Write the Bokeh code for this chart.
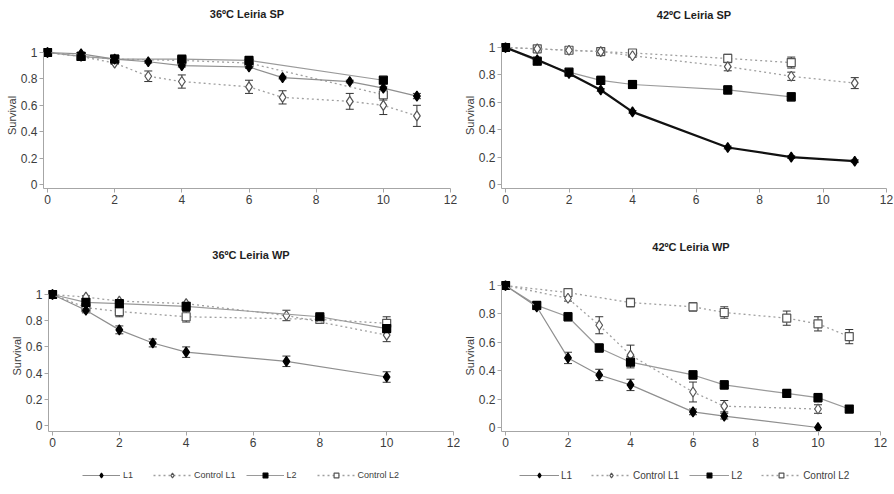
from bokeh.plotting import figure
from bokeh.layouts import column, row
from bokeh.models import (ColumnDataSource, Whisker, TeeHead, Legend, LegendItem,
                          FixedTicker, Range1d, Title)
from bokeh.embed import file_html
from bokeh.resources import INLINE

# ---------------- data ----------------
x_ticks = [0, 2, 4, 6, 8, 10, 12]
y_ticks = [0, 0.2, 0.4, 0.6, 0.8, 1.0]
y_tick_labels = ["0", "0.2", "0.4", "0.6", "0.8", "1"]
series_names = ["L1", "Control L1", "L2", "Control L2"]
panel_titles = ["36ºC Leiria SP", "42ºC Leiria SP", "36ºC Leiria WP", "42ºC Leiria WP"]
y_axis_label = "Survival"

# 36ºC Leiria SP
tl_l1_x = [0, 1, 2, 3, 4, 6, 7, 9, 10, 11]
tl_l1_y = [1.00, 0.99, 0.95, 0.93, 0.90, 0.89, 0.81, 0.78, 0.73, 0.67]
tl_l1_e = [0, 0.01, 0.01, 0.01, 0.01, 0.01, 0.01, 0.01, 0.01, 0.02]
tl_c1_x = [0, 1, 2, 3, 4, 6, 7, 9, 10, 11]
tl_c1_y = [1.00, 0.97, 0.92, 0.82, 0.78, 0.74, 0.66, 0.63, 0.60, 0.52]
tl_c1_e = [0, 0.01, 0.01, 0.04, 0.05, 0.05, 0.05, 0.06, 0.07, 0.08]
tl_l2_x = [0, 1, 2, 4, 6, 10]
tl_l2_y = [1.00, 0.97, 0.95, 0.95, 0.94, 0.79]
tl_l2_e = [0, 0.01, 0.01, 0.02, 0.02, 0.02]
tl_c2_x = [0, 1, 2, 4, 6, 10]
tl_c2_y = [1.00, 0.97, 0.95, 0.94, 0.92, 0.68]
tl_c2_e = [0, 0.01, 0.01, 0.01, 0.01, 0.04]

# 42ºC Leiria SP
tr_l1_x = [0, 1, 2, 3, 4, 7, 9, 11]
tr_l1_y = [1.00, 0.91, 0.81, 0.69, 0.53, 0.27, 0.20, 0.17]
tr_l1_e = [0, 0.01, 0.01, 0.01, 0.01, 0.01, 0.01, 0.01]
tr_c1_x = [0, 1, 2, 3, 4, 7, 9, 11]
tr_c1_y = [1.00, 0.99, 0.98, 0.97, 0.94, 0.86, 0.79, 0.74]
tr_c1_e = [0, 0.01, 0.01, 0.01, 0.01, 0.03, 0.03, 0.04]
tr_l2_x = [0, 1, 2, 3, 4, 7, 9]
tr_l2_y = [1.00, 0.90, 0.82, 0.76, 0.73, 0.69, 0.64]
tr_l2_e = [0, 0.02, 0.02, 0.03, 0.03, 0.03, 0.03]
tr_c2_x = [0, 1, 2, 3, 4, 7, 9]
tr_c2_y = [1.00, 0.99, 0.98, 0.97, 0.96, 0.92, 0.89]
tr_c2_e = [0, 0.01, 0.01, 0.01, 0.02, 0.03, 0.04]

# 36ºC Leiria WP
bl_l1_x = [0, 1, 2, 3, 4, 7, 10]
bl_l1_y = [1.00, 0.88, 0.73, 0.63, 0.56, 0.49, 0.37]
bl_l1_e = [0, 0.02, 0.03, 0.03, 0.04, 0.04, 0.04]
bl_c1_x = [0, 1, 2, 4, 7, 10]
bl_c1_y = [1.00, 0.98, 0.95, 0.93, 0.84, 0.69]
bl_c1_e = [0, 0.01, 0.01, 0.01, 0.04, 0.05]
bl_l2_x = [0, 1, 2, 4, 8, 10]
bl_l2_y = [1.00, 0.94, 0.93, 0.91, 0.83, 0.74]
bl_l2_e = [0, 0.02, 0.02, 0.02, 0.02, 0.03]
bl_c2_x = [0, 1, 2, 4, 8, 10]
bl_c2_y = [1.00, 0.90, 0.87, 0.83, 0.81, 0.78]
bl_c2_e = [0, 0.03, 0.04, 0.04, 0.03, 0.05]

# 42ºC Leiria WP
br_l1_x = [0, 1, 2, 3, 4, 6, 7, 10]
br_l1_y = [1.00, 0.85, 0.49, 0.37, 0.30, 0.11, 0.08, 0.00]
br_l1_e = [0, 0.02, 0.04, 0.04, 0.04, 0.02, 0.02, 0]
br_c1_x = [0, 2, 3, 4, 6, 7, 10]
br_c1_y = [1.00, 0.91, 0.72, 0.51, 0.25, 0.15, 0.13]
br_c1_e = [0, 0.02, 0.06, 0.07, 0.07, 0.04, 0.03]
br_l2_x = [0, 1, 2, 3, 4, 6, 7, 9, 10, 11]
br_l2_y = [1.00, 0.86, 0.78, 0.56, 0.46, 0.37, 0.30, 0.24, 0.21, 0.13]
br_l2_e = [0, 0.02, 0.03, 0.03, 0.04, 0.03, 0.03, 0.02, 0.03, 0.01]
br_c2_x = [0, 2, 4, 6, 7, 9, 10, 11]
br_c2_y = [1.00, 0.95, 0.88, 0.85, 0.81, 0.77, 0.73, 0.64]
br_c2_e = [0, 0.02, 0.03, 0.03, 0.04, 0.05, 0.05, 0.05]

# ---------------- styling / layout ----------------
FONT = "Liberation Sans"
AXIS_COL = "#a6a6a6"
TEXT_COL = "#3c3c3c"
MIN_LEFT = 41          # room Bokeh needs for the y axis
XPAD_PX, YPAD_T_PX, YPAD_B_PX = 4, 5, 4


def series_styles(l1_style):
    return {
        "L1": dict(marker="diamond", size=10, fill="black", mline="black",
                   lcol=l1_style[0], lw=l1_style[1], dash="solid"),
        "Control L1": dict(marker="diamond", size=10, fill="white", mline="#555555",
                           lcol="#a0a0a0", lw=1.3, dash="2 3"),
        "L2": dict(marker="square", size=8, fill="black", mline="black",
                   lcol="#9a9a9a", lw=1.2, dash="solid"),
        "Control L2": dict(marker="square", size=8, fill="white", mline="#555555",
                           lcol="#a0a0a0", lw=1.3, dash="2 3"),
    }


def make_panel(title, series, fx, fw, fy, fh, frame_top, frame_bottom,
               axes_box, title_y, l1_style):
    x0, x12, y1, y0 = axes_box
    bl = max(int(round(x0 - XPAD_PX - fx)), MIN_LEFT)
    frame_left = fx + bl
    x0 = max(x0, frame_left + XPAD_PX)
    sx = (x12 - x0) / 12.0
    sy = (y0 - y1) / 1.0
    fwid = int(round(x12 - frame_left))
    br = fw - bl - fwid
    bt = frame_top - fy
    bb = fy + fh - frame_bottom
    xs = -(x0 - frame_left) / sx
    xe = 12.0
    ye = 1 + (y1 - frame_top) / sy
    ys = -(frame_bottom - y0) / sy

    p = figure(width=fw, height=fh, min_border_left=bl, min_border_right=br,
               min_border_top=bt, min_border_bottom=bb,
               x_range=Range1d(xs, xe), y_range=Range1d(ys, ye),
               output_backend="svg", toolbar_location=None, tools="")
    p.outline_line_color = None
    p.background_fill_color = "white"
    p.border_fill_color = "white"
    p.xgrid.visible = False
    p.ygrid.visible = False

    gap = max(2, int(round(frame_top - title_y - 6)))
    spacer = Title(text=" ", text_font_size="1px", standoff=max(0, gap - 2))
    p.add_layout(spacer, "above")
    t = Title(text=title, align="center", text_font=FONT, text_font_size="11px",
              text_font_style="bold", text_color="#1e1e1e", standoff=0)
    p.add_layout(t, "above")

    for ax in (p.xaxis, p.yaxis):
        ax.axis_line_color = AXIS_COL
        ax.major_tick_line_color = AXIS_COL
        ax.major_tick_out = 4
        ax.major_tick_in = 0
        ax.minor_tick_line_color = None
        ax.major_label_text_font = FONT
        ax.major_label_text_font_size = "12px"
        ax.major_label_text_color = TEXT_COL
        ax.major_label_standoff = 2
    p.xaxis.bounds = (xs, 12)
    p.yaxis.bounds = (ys, 1)
    p.xaxis.ticker = FixedTicker(ticks=x_ticks)
    p.yaxis.ticker = FixedTicker(ticks=y_ticks)
    p.yaxis.major_label_overrides = {float(t): s for t, s in zip(y_ticks, y_tick_labels)}
    p.yaxis.axis_label = y_axis_label
    p.yaxis.axis_label_text_font = FONT
    p.yaxis.axis_label_text_font_size = "11px"
    p.yaxis.axis_label_text_font_style = "normal"
    p.yaxis.axis_label_text_color = TEXT_COL
    p.yaxis.axis_label_standoff = 0

    styles = series_styles(l1_style)
    for name in ["Control L2", "Control L1", "L2", "L1"]:
        xv, yv, ev = series[name]
        st = styles[name]
        src = ColumnDataSource(dict(x=xv, y=yv,
                                    upper=[a + b for a, b in zip(yv, ev)],
                                    lower=[a - b for a, b in zip(yv, ev)]))
        p.line("x", "y", source=src, line_color=st["lcol"], line_width=st["lw"],
               line_dash=st["dash"])
        w = Whisker(base="x", upper="upper", lower="lower", source=src,
                    dimension="height", line_color="#333333", line_width=1,
                    upper_head=TeeHead(size=8, line_color="#333333", line_width=1),
                    lower_head=TeeHead(size=8, line_color="#333333", line_width=1))
        p.add_layout(w)
        p.scatter("x", "y", source=src, marker=st["marker"], size=st["size"],
                  fill_color=st["fill"], line_color=st["mline"], line_width=1.2)
    return p


def make_legend(width, height, left, bottom_gap, series, font_px, glyph_w, standoff):
    # the legend's own renderers sit outside this strip's ranges, so only the key shows
    p = figure(width=width, height=height, x_range=Range1d(-3, -2), y_range=Range1d(-3, -2),
               x_axis_type=None, y_axis_type=None, min_border=0,
               output_backend="svg", toolbar_location=None, tools="")
    p.outline_line_color = None
    p.xgrid.visible = False
    p.ygrid.visible = False
    styles = series_styles(("#8f8f8f", 1.2))
    items = []
    for name in series_names:
        st = styles[name]
        xv, yv, _ = series[name]
        src = ColumnDataSource(dict(x=xv, y=yv))
        lr = p.line("x", "y", source=src, line_color=st["lcol"], line_width=st["lw"],
                    line_dash=st["dash"])
        sr = p.scatter("x", "y", source=src, marker=st["marker"], size=st["size"] - 1,
                       fill_color=st["fill"], line_color=st["mline"], line_width=1.2)
        items.append(LegendItem(label=name, renderers=[lr, sr]))
    leg = Legend(items=items, orientation="horizontal", location=(left, bottom_gap),
                 glyph_width=glyph_w, glyph_height=12, label_text_font=FONT,
                 label_text_font_size=font_px, label_text_color=TEXT_COL,
                 spacing=10, padding=2, margin=0, label_standoff=standoff, label_height=12,
                 background_fill_alpha=0, border_line_alpha=0)
    p.add_layout(leg)
    return p


LEFT_W, RIGHT_W = 460, 434
TOP_H, BOT_H, LEG_H = 230, 234, 30

# axes boxes (pixel positions of x=0, x=12, y=1, y=0)
tl_box, tr_box = (47, 450, 52, 184), (505, 886, 47, 184)
bl_box, br_box = (52, 453, 294, 425), (503, 880, 285, 427)

top_ft = int(min(b[2] for b in (tl_box, tr_box)) - YPAD_T_PX)
top_fb = int(max(b[3] for b in (tl_box, tr_box)) + YPAD_B_PX)
bot_ft = int(min(b[2] for b in (bl_box, br_box)) - YPAD_T_PX)
bot_fb = int(max(b[3] for b in (bl_box, br_box)) + YPAD_B_PX)

tl_series = {"L1": (tl_l1_x, tl_l1_y, tl_l1_e), "Control L1": (tl_c1_x, tl_c1_y, tl_c1_e),
             "L2": (tl_l2_x, tl_l2_y, tl_l2_e), "Control L2": (tl_c2_x, tl_c2_y, tl_c2_e)}
tr_series = {"L1": (tr_l1_x, tr_l1_y, tr_l1_e), "Control L1": (tr_c1_x, tr_c1_y, tr_c1_e),
             "L2": (tr_l2_x, tr_l2_y, tr_l2_e), "Control L2": (tr_c2_x, tr_c2_y, tr_c2_e)}
bl_series = {"L1": (bl_l1_x, bl_l1_y, bl_l1_e), "Control L1": (bl_c1_x, bl_c1_y, bl_c1_e),
             "L2": (bl_l2_x, bl_l2_y, bl_l2_e), "Control L2": (bl_c2_x, bl_c2_y, bl_c2_e)}
br_series = {"L1": (br_l1_x, br_l1_y, br_l1_e), "Control L1": (br_c1_x, br_c1_y, br_c1_e),
             "L2": (br_l2_x, br_l2_y, br_l2_e), "Control L2": (br_c2_x, br_c2_y, br_c2_e)}

tl = make_panel(panel_titles[0], tl_series, 0, LEFT_W, 0, TOP_H, top_ft, top_fb,
                tl_box, 14, ("#8f8f8f", 1.2))
tr = make_panel(panel_titles[1], tr_series, LEFT_W, RIGHT_W, 0, TOP_H, top_ft, top_fb,
                tr_box, 15, ("#111111", 2.2))
bl = make_panel(panel_titles[2], bl_series, 0, LEFT_W, TOP_H, BOT_H, bot_ft, bot_fb,
                bl_box, 255, ("#8f8f8f", 1.2))
br = make_panel(panel_titles[3], br_series, LEFT_W, RIGHT_W, TOP_H, BOT_H, bot_ft, bot_fb,
                br_box, 247, ("#8f8f8f", 1.2))

leg_l = make_legend(LEFT_W, LEG_H, 80, 11, bl_series, "9px", 38, 3)
leg_r = make_legend(RIGHT_W, LEG_H, 517 - LEFT_W, 11, br_series, "10px", 40, 2)

layout = column(row(tl, tr), row(bl, br), row(leg_l, leg_r))
open("out.html", "w").write(file_html(layout, INLINE))
